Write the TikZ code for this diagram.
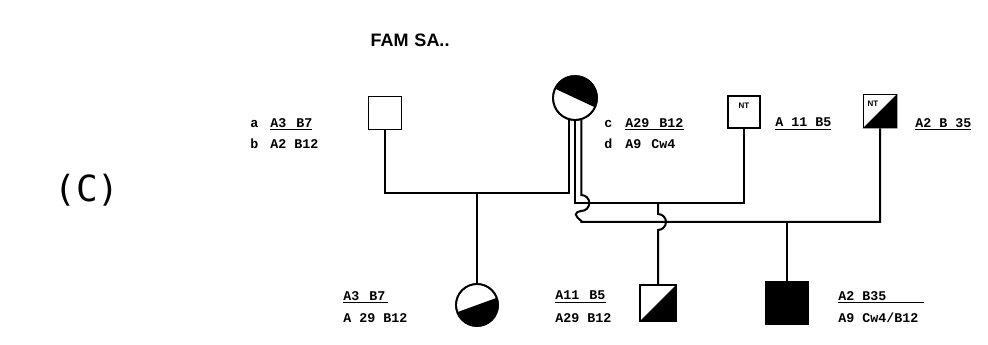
\documentclass[tikz,border=0pt]{standalone}
\usepackage{fontspec}
\usetikzlibrary{calc}
\setmainfont{Liberation Mono}
\newfontfamily\titlefont{Liberation Sans}
\newfontfamily\bigfont{DejaVu Sans Mono}
\begin{document}
\begin{tikzpicture}[x=0.75pt,y=-0.75pt,
  lbl/.style={font=\bfseries\fontsize{10}{11}\selectfont, inner sep=0pt, anchor=west},
  conn/.style={line width=1.5pt},
  sq/.style={draw, line width=1.3pt, fill=white, minimum size=#1, inner sep=0pt},
  circ/.style={draw, line width=1.3pt, fill=white, circle, minimum size=#1, inner sep=0pt},
  ntlbl/.style={font=\titlefont\bfseries\fontsize{6}{7}\selectfont, inner sep=0pt}
]
\useasboundingbox (0,0) rectangle (988,345);

% title and panel letter
\node[font=\titlefont\bfseries\fontsize{13.5}{15}\selectfont] (title) at (410,40) {FAM\,\,SA..};
\node[font=\bigfont\fontsize{27}{30}\selectfont] (panel) at (87,190) {(C)};

% coordinates of the mating lines
\coordinate (y1) at (0,193);
\coordinate (y2) at (0,203);
\coordinate (y3) at (0,222);

% parents
\node[sq=24.75pt] (f) at (385,113) {};
\node[circ=33pt] (m) at (575,98) {};
\node[sq=24pt] (nt1) at (744,112) {};
\node[sq=24.75pt] (nt2) at (880,111) {};

% children
\node[circ=31.5pt] (c1) at (477,305) {};
\node[sq=27pt] (c2) at (658,303) {};
\node[sq=31.5pt, fill=black] (c3) at (787,303) {};

% connectors
\draw[conn] (m.-106) |- (f.south |- y1) -- (f.south);
\draw[conn] (c1.north) -- (c1.north |- y1);
\draw[conn] (m.-90) |- (nt1.south |- y2) -- (nt1.south);
\draw[conn] (m.-74) -- ($(m.-74 |- y2)+(0,-8)$)
  arc[start angle=90, end angle=-90, radius=6pt]
  .. controls +(-6pt,-1pt) and +(-5pt,4pt) .. ($(m.-74 |- y3)+(0,-1)$)
  |- (nt2.south |- y3) -- (nt2.south);
\draw[conn] (c2.north |- y2) -- ($(c2.north |- y3)+(0,-8)$)
  arc[start angle=90, end angle=-90, radius=6pt] -- (c2.north);
\draw[conn] (c3.north) -- (c3.north |- y3);

% half fillings
\fill (m.center) ++(-25:16.5pt) arc[start angle=-25, end angle=155, radius=16.5pt] -- cycle;
\draw[line width=1.3pt] (m) circle[radius=16.5pt];
\fill (c1.center) ++(200:15.75pt) arc[start angle=200, end angle=380, radius=15.75pt] -- cycle;
\draw[line width=1.3pt] (c1) circle[radius=15.75pt];
\fill (c2.south west) -- (c2.north east) -- (c2.south east) -- cycle;
\fill (nt2.south west) -- (nt2.north east) -- (nt2.south east) -- cycle;
\node[ntlbl] (nt1t) at (744,106) {NT};
\node[ntlbl, fill=white, inner sep=0.5pt] (nt2t) at (873,104) {NT};

% labels
\node[lbl] (la) at (250,124) {a};
\node[lbl] (lat) at (270,124) {\underline{A3 \,B7}};
\node[lbl] (lb) at (250,144) {b};
\node[lbl] (lbt) at (270,144) {A2 B12};
\node[lbl] (lc) at (604,124) {c};
\node[lbl] (lct) at (625,124) {\underline{A29 \,B12}};
\node[lbl] (ld) at (604,144) {d};
\node[lbl] (ldt) at (625,144) {A9 \,Cw4};
\node[lbl] (le) at (775,124) {\underline{A 11 B5}};
\node[lbl] (lf) at (915,124) {\underline{A2 B 35}};
\node[lbl] (l1a) at (343,297) {\underline{A3 \,B7\,}};
\node[lbl] (l1b) at (343,318) {A 29 B12};
\node[lbl] (l2a) at (555,297) {\underline{A11 \,B5}};
\node[lbl] (l2b) at (555,318) {A29 B12};
\node[lbl] (l3a) at (838,297) {\underline{A2 B35\hspace{28pt}}};
\node[lbl] (l3b) at (838,318) {A9 Cw4/B12};
\end{tikzpicture}
\end{document}
